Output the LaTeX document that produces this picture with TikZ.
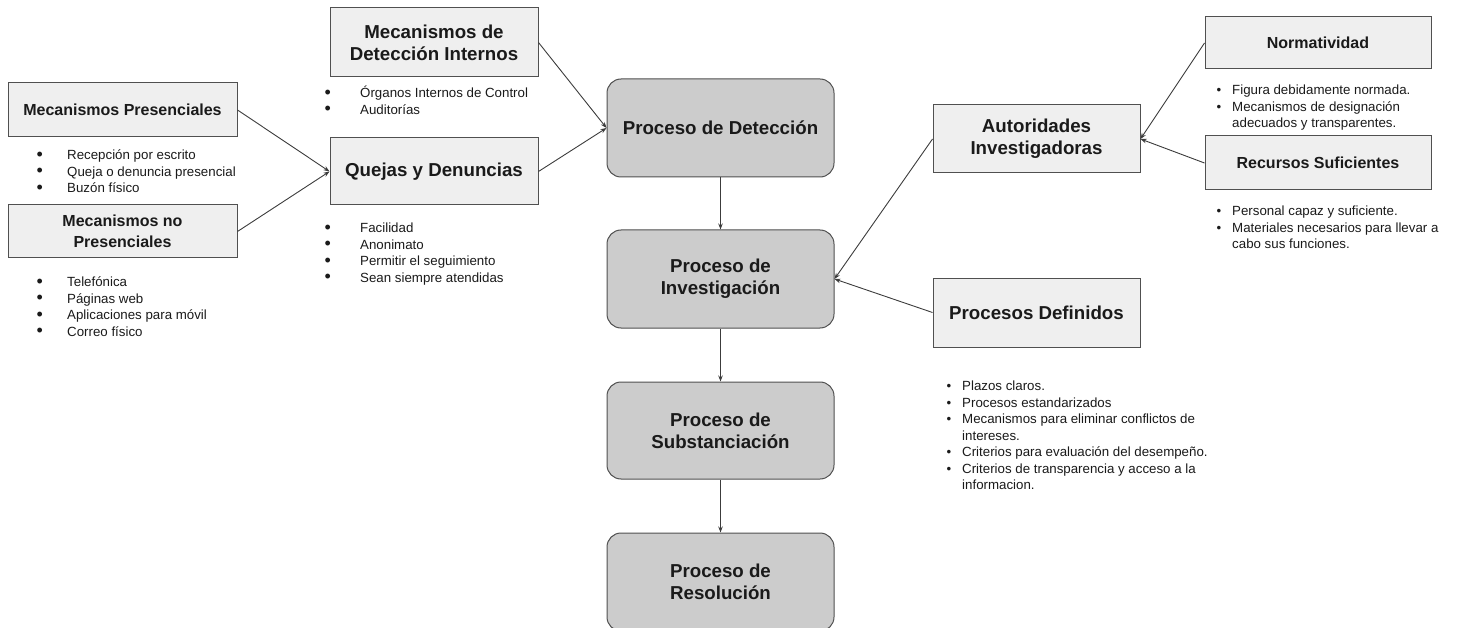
\documentclass[tikz,border=0pt]{standalone}
\usepackage{fontspec}
\setmainfont{Liberation Sans}
\usetikzlibrary{arrows.meta}
\definecolor{boxfill}{HTML}{EFEFEF}
\definecolor{procfill}{HTML}{CCCCCC}
\definecolor{edgecol}{HTML}{505050}
\definecolor{linecol}{HTML}{3C3C3C}
\definecolor{txt}{HTML}{1A1A1A}
\newcommand{\bl}[1]{\makebox[#1][l]{\hspace*{-1pt}\raisebox{-0.3pt}{\scalebox{1.35}{•}}}}
\newcommand{\bs}[1]{\makebox[#1][l]{•}}
\begin{document}
\begin{tikzpicture}[x=1pt,y=-1pt,
  box/.style={draw=edgecol, fill=boxfill, line width=1pt, inner sep=0pt, align=center, text=txt,
    font=\bfseries\fontsize{18.7}{22}\selectfont},
  mbox/.style={box, font=\bfseries\fontsize{16}{21}\selectfont},
  proc/.style={box, fill=procfill, rounded corners=14pt, minimum width=227pt, minimum height=98pt},
  conn/.style={draw=linecol, line width=0.9pt, -{Stealth[length=6pt,width=4.5pt]}},
  blist/.style={anchor=base west, inner sep=0pt, text=txt, font=\fontsize{13.3}{16.5}\selectfont}]
\useasboundingbox (0,0) rectangle (1458,628);

% left boxes
\node[mbox, minimum width=229pt, minimum height=54pt] (pres) at (122.5,110) {Mecanismos Presenciales};
\node[mbox, minimum width=229pt, minimum height=53pt] (nopres) at (122.5,231.5) {Mecanismos no\\Presenciales};
\node[box, minimum width=208pt, minimum height=69pt] (detint) at (434,42.5) {Mecanismos de\\Detección Internos};
\node[box, minimum width=208pt, minimum height=67pt] (quejas) at (434,171.5) {Quejas y Denuncias};

% process boxes
\node[proc] (pdet) at (720.5,128) {Proceso de Detección};
\node[proc] (pinv) at (720.5,279) {Proceso de\\Investigación};
\node[proc, minimum height=97pt] (psub) at (720.5,430.5) {Proceso de\\Substanciación};
\node[proc] (pres2) at (720.5,582) {Proceso de\\Resolución};

% right boxes
\node[box, minimum width=207pt, minimum height=68pt] (aut) at (1036.5,139) {Autoridades\\Investigadoras};
\node[mbox, minimum width=226pt, minimum height=52pt] (norm) at (1318,43) {Normatividad};
\node[mbox, minimum width=226pt, minimum height=54pt] (rec) at (1318,163) {Recursos Suficientes};
\node[box, minimum width=207pt, minimum height=69pt] (pdef) at (1036.5,312.5) {Procesos Definidos};

% lists
\node[blist] (lpres) at (37.5,159.8) {\begin{tabular}[t]{@{}l@{}l@{}}
\bl{29.5pt}&Recepción por escrito\\
\bl{29.5pt}&Queja o denuncia presencial\\
\bl{29.5pt}&Buzón físico\end{tabular}};
\node[blist] (lnopres) at (37.5,286.8) {\begin{tabular}[t]{@{}l@{}l@{}}
\bl{29.5pt}&Telefónica\\
\bl{29.5pt}&Páginas web\\
\bl{29.5pt}&Aplicaciones para móvil\\
\bl{29.5pt}&Correo físico\end{tabular}};
\node[blist] (ldetint) at (325.5,97.8) {\begin{tabular}[t]{@{}l@{}l@{}}
\bl{34.5pt}&Órganos Internos de Control\\
\bl{34.5pt}&Auditorías\end{tabular}};
\node[blist] (lquejas) at (325.5,232.8) {\begin{tabular}[t]{@{}l@{}l@{}}
\bl{34.5pt}&Facilidad\\
\bl{34.5pt}&Anonimato\\
\bl{34.5pt}&Permitir el seguimiento\\
\bl{34.5pt}&Sean siempre atendidas\end{tabular}};
\node[blist] (lnorm) at (1216.5,94.8) {\begin{tabular}[t]{@{}l@{}l@{}}
\bs{15.5pt}&Figura debidamente normada.\\
\bs{15.5pt}&Mecanismos de designación\\
&adecuados y transparentes.\end{tabular}};
\node[blist] (lrec) at (1216.5,215.8) {\begin{tabular}[t]{@{}l@{}l@{}}
\bs{15.5pt}&Personal capaz y suficiente.\\
\bs{15.5pt}&Materiales necesarios para llevar a\\
&cabo sus funciones.\end{tabular}};
\node[blist] (lpdef) at (946.5,390.8) {\begin{tabular}[t]{@{}l@{}l@{}}
\bs{15.5pt}&Plazos claros.\\
\bs{15.5pt}&Procesos estandarizados\\
\bs{15.5pt}&Mecanismos para eliminar conflictos de\\
&intereses.\\
\bs{15.5pt}&Criterios para evaluación del desempeño.\\
\bs{15.5pt}&Criterios de transparencia y acceso a la\\
&informacion.\end{tabular}};

% connectors
\draw[conn] (pres.east) -- (quejas.west);
\draw[conn] (nopres.east) -- (quejas.west);
\draw[conn] (detint.east) -- (pdet.west);
\draw[conn] (quejas.east) -- (pdet.west);
\draw[conn] (pdet.south) -- (pinv.north);
\draw[conn] (pinv.south) -- (psub.north);
\draw[conn] (psub.south) -- (pres2.north);
\draw[conn] (aut.west) -- (pinv.east);
\draw[conn] (pdef.west) -- (pinv.east);
\draw[conn] (norm.west) -- (aut.east);
\draw[conn] (rec.west) -- (aut.east);
\end{tikzpicture}
\end{document}
